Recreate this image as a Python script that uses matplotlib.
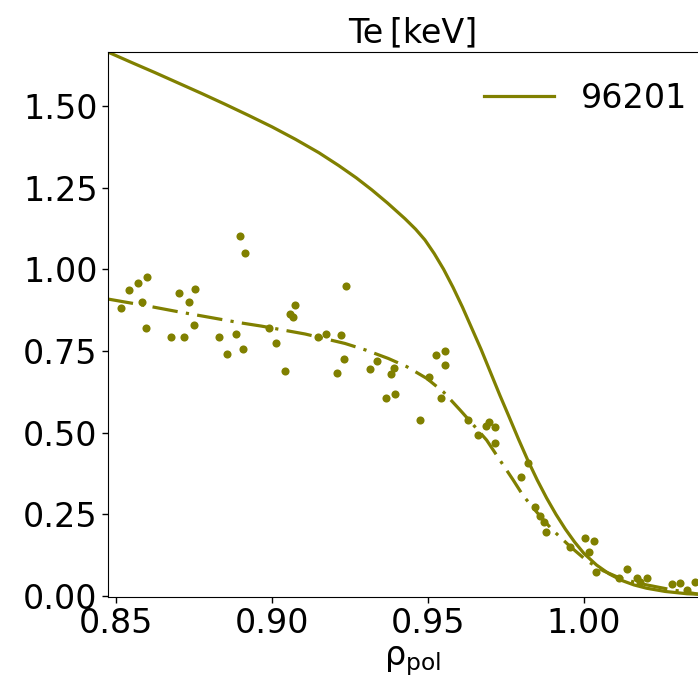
import numpy as np
import matplotlib
matplotlib.use("Agg")
import matplotlib.pyplot as plt

# measured points (rho_pol, Te)
rho_meas = [0.8516, 0.8542, 0.8571, 0.8599, 0.8584, 0.8595, 0.8676, 0.8701, 0.8719, 0.8734,
            0.8753, 0.8749, 0.8831, 0.8855, 0.8884, 0.8908, 0.8897, 0.8913, 0.8989, 0.9014,
            0.9043, 0.9057, 0.9067, 0.9073, 0.9147, 0.9173, 0.9207, 0.9221, 0.9231, 0.9236,
            0.9313, 0.9337, 0.9366, 0.9380, 0.9391, 0.9394, 0.9473, 0.9502, 0.9526, 0.9540,
            0.9556, 0.9556, 0.9629, 0.9660, 0.9686, 0.9697, 0.9715, 0.9715, 0.9797, 0.9820,
            0.9843, 0.9859, 0.9872, 0.9878, 0.9955, 1.0003, 1.0017, 1.0032, 1.0038, 1.0113,
            1.0137, 1.0169, 1.0179, 1.0201, 1.0281, 1.0306, 1.0329, 1.0354]
te_meas = [0.881, 0.936, 0.959, 0.976, 0.900, 0.821, 0.793, 0.927, 0.793, 0.900,
           0.940, 0.830, 0.793, 0.742, 0.802, 0.757, 1.102, 1.051, 0.821, 0.775,
           0.688, 0.863, 0.853, 0.891, 0.794, 0.803, 0.683, 0.798, 0.725, 0.950,
           0.696, 0.719, 0.605, 0.679, 0.697, 0.617, 0.540, 0.670, 0.738, 0.607,
           0.751, 0.706, 0.539, 0.493, 0.521, 0.532, 0.516, 0.469, 0.363, 0.406,
           0.273, 0.246, 0.228, 0.195, 0.151, 0.177, 0.134, 0.168, 0.074, 0.054,
           0.082, 0.054, 0.044, 0.054, 0.037, 0.039, 0.018, 0.043]

# fit through the measurements (dash-dot)
rho_fit = [0.8474, 0.86, 0.87, 0.88, 0.89, 0.8967, 0.9106, 0.9234, 0.93, 0.9373,
           0.9432, 0.9496, 0.9549, 0.9603, 0.9645, 0.9688, 0.9731, 0.9773, 0.9805, 0.985,
           0.9896, 0.9955, 1.0009, 1.0062, 1.0115, 1.016, 1.0201, 1.0276, 1.0365, 1.045]
te_fit = [0.909, 0.888, 0.870, 0.853, 0.836, 0.826, 0.802, 0.773, 0.753, 0.727,
          0.702, 0.666, 0.625, 0.569, 0.524, 0.477, 0.415, 0.355, 0.307, 0.255,
          0.205, 0.152, 0.108, 0.077, 0.055, 0.043, 0.034, 0.020, 0.006, 0.0]

# shot 96201 profile (solid)
rho_96201 = [0.8474, 0.855, 0.8625, 0.87, 0.8775, 0.885, 0.8925, 0.90, 0.9075, 0.915,
             0.9213, 0.927, 0.932, 0.937, 0.9426, 0.946, 0.949, 0.952, 0.955, 0.958,
             0.961, 0.964, 0.967, 0.970, 0.973, 0.976, 0.979, 0.982, 0.985, 0.988,
             0.991, 0.994, 0.997, 1.000, 1.004, 1.008, 1.012, 1.016, 1.020, 1.026,
             1.033, 1.045]
te_96201 = [1.665, 1.633, 1.602, 1.570, 1.538, 1.505, 1.471, 1.436, 1.398, 1.357,
            1.318, 1.280, 1.243, 1.203, 1.155, 1.123, 1.090, 1.048, 1.000, 0.945,
            0.885, 0.820, 0.755, 0.685, 0.615, 0.548, 0.480, 0.415, 0.355, 0.300,
            0.250, 0.205, 0.165, 0.130, 0.095, 0.068, 0.048, 0.034, 0.024, 0.014,
            0.007, 0.002]

col = "#808000"
fs = 24

fig = plt.figure(figsize=(6.98, 6.89), dpi=100)
ax = fig.add_axes([0.1547, 0.1335, 0.8725, 0.791])

ax.plot(rho_96201, te_96201, "-", color=col, linewidth=2.3, label="96201")
ax.plot(rho_fit, te_fit, color=col, linewidth=2.3, linestyle=(0, (8, 2.6, 1, 2.6)))
ax.scatter(rho_meas, te_meas, s=34, color=col, zorder=3, linewidths=0)

ax.set_xlim(0.84744, 1.0426)
ax.set_ylim(-0.003, 1.665)
ax.set_xticks([0.85, 0.90, 0.95, 1.00])
ax.set_xticklabels(["0.85", "0.90", "0.95", "1.00"])
ax.set_yticks([0.0, 0.25, 0.5, 0.75, 1.0, 1.25, 1.5])
ax.set_yticklabels(["0.00", "0.25", "0.50", "0.75", "1.00", "1.25", "1.50"])
ax.tick_params(labelsize=fs, direction="out", length=4, width=1)
ax.spines["right"].set_visible(False)

ax.set_title("Te\u2009[keV]", fontsize=fs, pad=7)
ax.set_xlabel(r"ρ$_{\mathrm{pol}}$", fontsize=fs, labelpad=3)
ax.legend(loc="upper right", frameon=False, fontsize=fs, handlelength=2.1)

plt.savefig("out.png", dpi=100)
plt.close()
